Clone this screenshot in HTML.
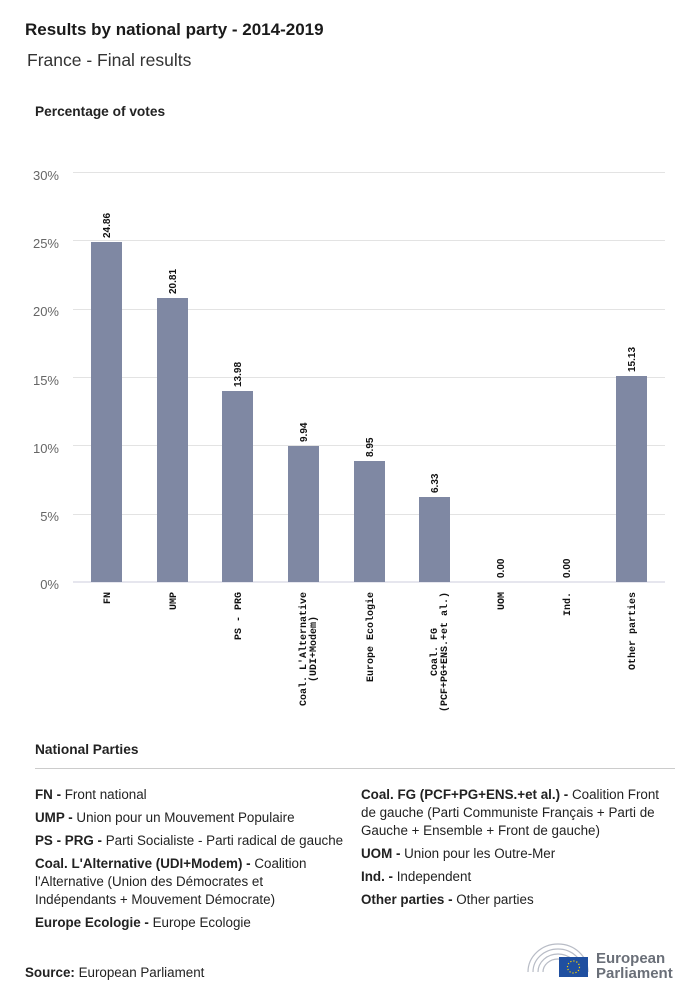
<!DOCTYPE html>
<html><head><meta charset="utf-8"><style>
html,body{margin:0;padding:0;background:#fff;}
svg{display:block;font-family:"Liberation Sans",sans-serif;}
.m{font-family:"Liberation Mono",monospace;font-size:10px;font-weight:bold;fill:#111;}
.v{font-size:10px;font-weight:bold;fill:#111;}
.y{font-size:13px;fill:#666;text-anchor:end;}
.l{font-size:13.4px;fill:#222;}
.l tspan.b{font-weight:bold;}
</style></head><body>
<svg width="700" height="998" viewBox="0 0 700 998">
<text x="25" y="35" font-size="17" font-weight="bold" fill="#1a1a1a">Results by national party - 2014-2019</text>
<text x="27" y="66" font-size="17.5" fill="#333">France - Final results</text>
<text x="35" y="116" font-size="13.7" font-weight="bold" fill="#222">Percentage of votes</text>
<g stroke="#e3e3e3" stroke-width="1">
<line x1="73" x2="665" y1="172.5" y2="172.5"/>
<line x1="73" x2="665" y1="240.5" y2="240.5"/>
<line x1="73" x2="665" y1="309.5" y2="309.5"/>
<line x1="73" x2="665" y1="377.5" y2="377.5"/>
<line x1="73" x2="665" y1="445.5" y2="445.5"/>
<line x1="73" x2="665" y1="514.5" y2="514.5"/>
</g>
<line x1="73" x2="665" y1="582" y2="582" stroke="#ccd" stroke-width="1"/>
<text class="y" x="59" y="180">30%</text>
<text class="y" x="59" y="248">25%</text>
<text class="y" x="59" y="316">20%</text>
<text class="y" x="59" y="385">15%</text>
<text class="y" x="59" y="453">10%</text>
<text class="y" x="59" y="521">5%</text>
<text class="y" x="59" y="589">0%</text>
<g fill="#7f88a3">
<rect x="91" y="242" width="31" height="340"/>
<rect x="157" y="298" width="31" height="284"/>
<rect x="222" y="391" width="31" height="191"/>
<rect x="288" y="446" width="31" height="136"/>
<rect x="354" y="461" width="31" height="121"/>
<rect x="419" y="497" width="31" height="85"/>
<rect x="616" y="376" width="31" height="206"/>
</g>
<g class="v">
<text transform="translate(110,238) rotate(-90)">24.86</text>
<text transform="translate(176,294) rotate(-90)">20.81</text>
<text transform="translate(241,387) rotate(-90)">13.98</text>
<text transform="translate(307,442) rotate(-90)">9.94</text>
<text transform="translate(373,457) rotate(-90)">8.95</text>
<text transform="translate(438,493) rotate(-90)">6.33</text>
<text transform="translate(504,578) rotate(-90)">0.00</text>
<text transform="translate(570,578) rotate(-90)">0.00</text>
<text transform="translate(635,372) rotate(-90)">15.13</text>
</g>
<g class="m" text-anchor="end">
<text transform="translate(110,592) rotate(-90)">FN</text>
<text transform="translate(176,592) rotate(-90)">UMP</text>
<text transform="translate(241,592) rotate(-90)">PS - PRG</text>
<text transform="translate(373,592) rotate(-90)">Europe Ecologie</text>
<text transform="translate(504,592) rotate(-90)">UOM</text>
<text transform="translate(570,592) rotate(-90)">Ind.</text>
<text transform="translate(635,592) rotate(-90)">Other parties</text>
</g>
<g class="m" text-anchor="middle">
<text transform="translate(306,649) rotate(-90)">Coal. L'Alternative</text>
<text transform="translate(316,649) rotate(-90)">(UDI+Modem)</text>
<text transform="translate(437,652) rotate(-90)">Coal. FG</text>
<text transform="translate(447,652) rotate(-90)">(PCF+PG+ENS.+et al.)</text>
</g>
<text x="35" y="754" font-size="13.7" font-weight="bold" fill="#222">National Parties</text>
<line x1="35" x2="675" y1="768.5" y2="768.5" stroke="#ccc"/>
<g class="l">
<text x="35" y="799"><tspan class="b">FN - </tspan>Front national</text>
<text x="35" y="822"><tspan class="b">UMP - </tspan>Union pour un Mouvement Populaire</text>
<text x="35" y="845"><tspan class="b">PS - PRG - </tspan>Parti Socialiste - Parti radical de gauche</text>
<text x="35" y="868"><tspan class="b">Coal. L'Alternative (UDI+Modem) - </tspan>Coalition</text>
<text x="35" y="886">l'Alternative (Union des Démocrates et</text>
<text x="35" y="904">Indépendants + Mouvement Démocrate)</text>
<text x="35" y="927"><tspan class="b">Europe Ecologie - </tspan>Europe Ecologie</text>
<text x="361" y="799"><tspan class="b">Coal. FG (PCF+PG+ENS.+et al.) - </tspan>Coalition Front</text>
<text x="361" y="817">de gauche (Parti Communiste Français + Parti de</text>
<text x="361" y="835">Gauche + Ensemble + Front de gauche)</text>
<text x="361" y="858"><tspan class="b">UOM - </tspan>Union pour les Outre-Mer</text>
<text x="361" y="881"><tspan class="b">Ind. - </tspan>Independent</text>
<text x="361" y="904"><tspan class="b">Other parties - </tspan>Other parties</text>
<text x="25" y="977"><tspan class="b">Source: </tspan>European Parliament</text>
</g>
<g fill="none" stroke="#b8bcc6" stroke-width="1.2">
<path d="M528 972 A30 28 0 0 1 588 972"/>
<path d="M533 972 A25 23 0 0 1 583 972"/>
<path d="M538 972 A20 18 0 0 1 578 972"/>
<path d="M543 972 A15 13 0 0 1 573 972"/>
</g>
<rect x="559" y="957" width="29" height="20" fill="#1f4fa0"/>
<circle cx="573.5" cy="967" r="6" fill="none" stroke="#ffd400" stroke-width="1.2" stroke-dasharray="1.2 1.9"/>
<text x="596" y="963" font-size="15" font-weight="bold" fill="#6a6f78">European</text>
<text x="596" y="978" font-size="15" font-weight="bold" fill="#6a6f78">Parliament</text>
</svg>
</body></html>
